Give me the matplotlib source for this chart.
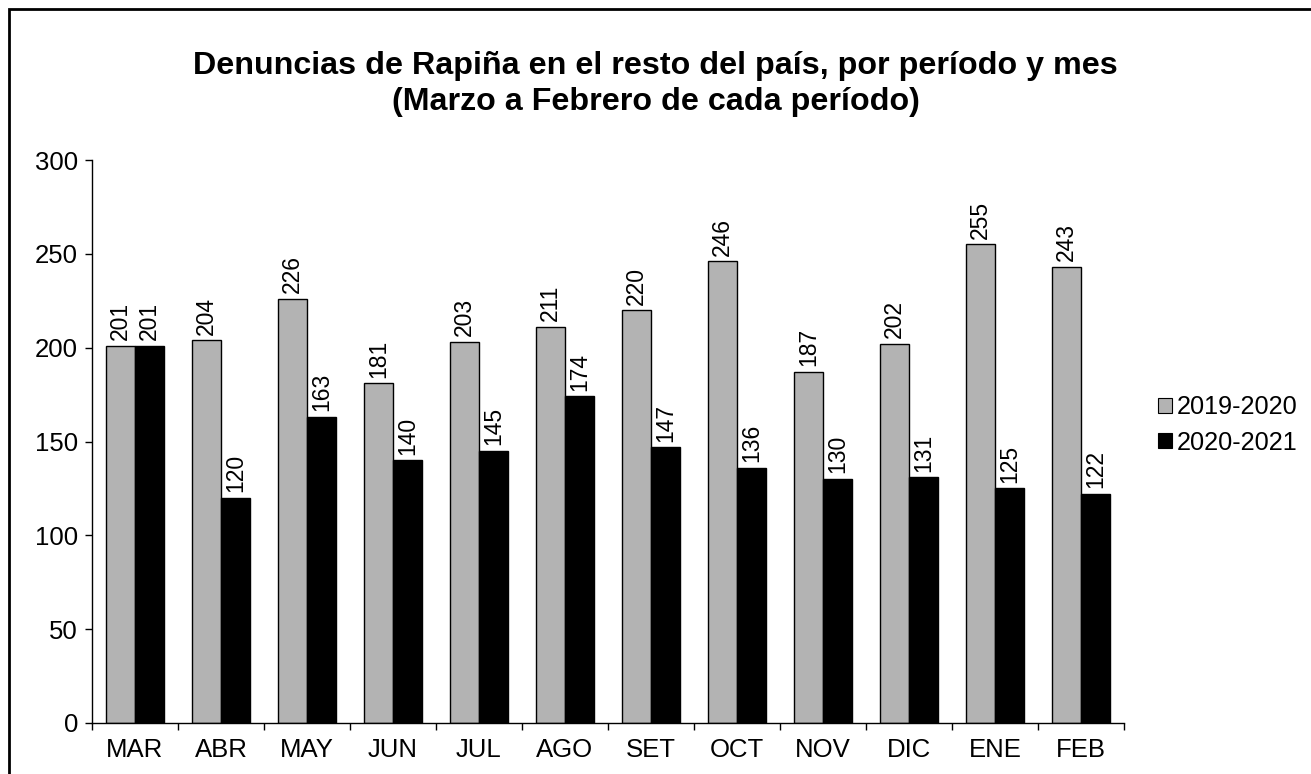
import numpy as np
import matplotlib
matplotlib.use('Agg')
import matplotlib.pyplot as plt
from matplotlib.patches import Rectangle, Patch

plt.rcParams['font.family'] = ['Liberation Sans', 'DejaVu Sans']

meses = ['MAR', 'ABR', 'MAY', 'JUN', 'JUL', 'AGO', 'SET', 'OCT', 'NOV', 'DIC', 'ENE', 'FEB']
p2019 = [201, 204, 226, 181, 203, 211, 220, 246, 187, 202, 255, 243]
p2020 = [201, 120, 163, 140, 145, 174, 147, 136, 130, 131, 125, 122]
series = ['2019-2020', '2020-2021']

W, H = 1311, 774
fig = plt.figure(figsize=(W / 100, H / 100), dpi=100)

# marco exterior (cortado a derecha y abajo)
fig.patches.append(Rectangle((9 / W, -0.2), 1.5, (H - 9) / H + 0.2, transform=fig.transFigure,
                             fill=False, edgecolor='black', linewidth=2))

ax = fig.add_axes([92 / W, (H - 723) / H, (1124 - 92) / W, (723 - 160) / H])

x = np.arange(len(meses))
w = 0.337
b1 = ax.bar(x - w / 2, p2019, w, color='#b3b3b3', edgecolor='black', linewidth=1)
b2 = ax.bar(x + w / 2, p2020, w, color='black', edgecolor='black', linewidth=1)

for bars in (b1, b2):
    for r in bars:
        v = r.get_height()
        ax.text(r.get_x() + r.get_width() / 2, v + 3, f'{v:.0f}', rotation=90,
                ha='center', va='bottom', fontsize=16.5)

ax.set_xlim(-0.5, len(meses) - 0.5)
ax.set_ylim(0, 300)
ax.set_yticks(range(0, 301, 50))
ax.set_xticks(x)
ax.set_xticklabels(meses)
ax.set_xticks(np.arange(-0.5, len(meses)), minor=True)
ax.tick_params(axis='x', which='major', length=0, pad=10.5, labelsize=18.5)
ax.tick_params(axis='x', which='minor', length=5, width=1, direction='out')
ax.tick_params(axis='y', length=5, width=1, labelsize=18.5, pad=5)
for s in ('top', 'right'):
    ax.spines[s].set_visible(False)
for s in ('left', 'bottom'):
    ax.spines[s].set_linewidth(1)

fig.text(0.5, 1 - 84 / H, 'Denuncias de Rapiña en el resto del país, por período y mes\n(Marzo a Febrero de cada período)',
         ha='center', va='center', fontsize=23.2, fontweight='bold', linespacing=1.27)

handles = [Patch(facecolor='#b3b3b3', edgecolor='black', linewidth=0.8),
           Patch(facecolor='black', edgecolor='black', linewidth=0.8)]
fig.legend(handles, series, loc='center left', bbox_to_anchor=(1158 / W, (H - 425) / H),
           frameon=False, fontsize=18.2, handlelength=0.55, handleheight=0.55,
           handletextpad=0.2, labelspacing=0.45, borderaxespad=0, borderpad=0)

fig.savefig('out.png', dpi=100)
